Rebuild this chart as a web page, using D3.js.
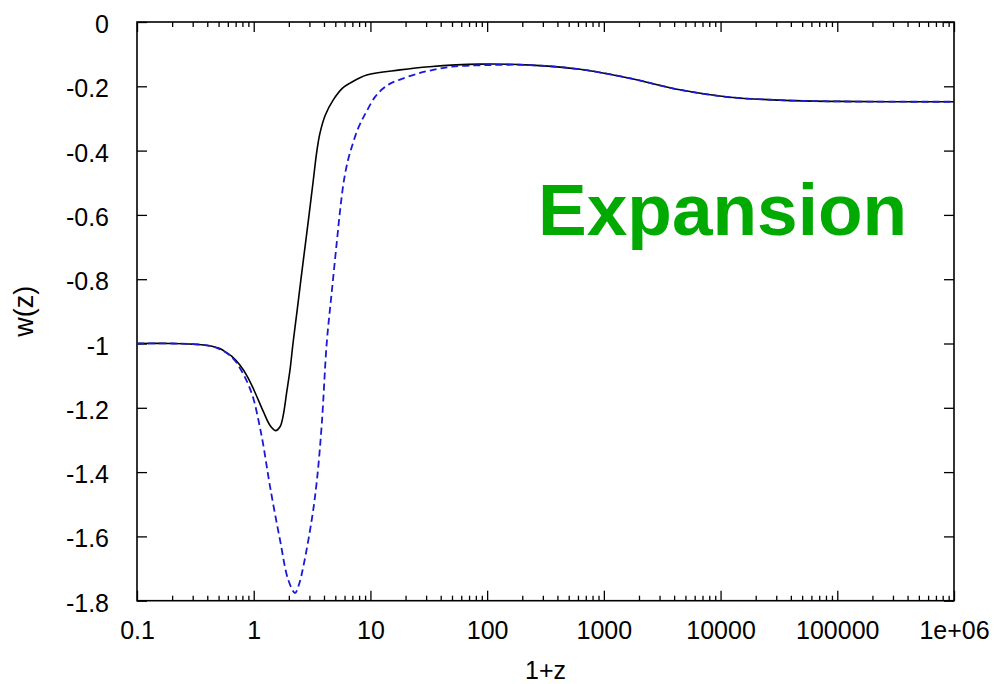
<!DOCTYPE html>
<html>
<head>
<meta charset="utf-8">
<script src="https://cdn.jsdelivr.net/npm/d3@7"></script>
<style>
  html, body { margin: 0; padding: 0; background: #fff; }
  svg { display: block; }
  text { font-family: "Liberation Sans", Arial, Helvetica, sans-serif; fill: #000; }
</style>
</head>
<body>
<svg id="chart" width="998" height="684"></svg>
<script>
// Equation-of-state parameter w(z) versus 1+z, two reconstructions
const solidX = [0.1, 0.2, 0.3, 0.4, 0.5, 0.55, 0.65, 0.764, 0.88, 1.0, 1.21, 1.38, 1.54, 1.68, 1.78, 1.92, 2.05, 2.17, 2.35, 2.54, 2.75, 2.98, 3.22, 3.48, 3.7, 4.1, 4.79, 5.8, 6.69, 9.29, 17.9, 32, 87, 234, 625, 1675, 4500, 12000, 32000, 100000, 1000000];
const solidW = [-1.0, -1.0, -1.002, -1.006, -1.014, -1.022, -1.04, -1.068, -1.102, -1.143, -1.212, -1.255, -1.271, -1.259, -1.228, -1.15, -1.08, -1.0, -0.9, -0.8, -0.7, -0.6, -0.5, -0.4, -0.345, -0.29, -0.243, -0.205, -0.19, -0.165, -0.149, -0.139, -0.131, -0.134, -0.147, -0.175, -0.211, -0.234, -0.243, -0.247, -0.248];

const dashedX = [0.1, 0.2, 0.3, 0.4, 0.5, 0.6, 0.7, 0.8, 0.9, 1.0, 1.1, 1.2, 1.38, 1.68, 1.98, 2.26, 2.45, 2.66, 3.14, 3.48, 3.83, 4.22, 4.65, 5.14, 5.54, 5.94, 6.43, 6.96, 7.68, 8.47, 9.3, 10.95, 12.82, 15.02, 17.93, 24.59, 32.4, 50, 100, 234, 625, 1675, 4500, 12000, 32000, 100000, 1000000];
const dashedW = [-1.0, -1.0, -1.002, -1.006, -1.016, -1.032, -1.056, -1.09, -1.128, -1.175, -1.24, -1.31, -1.445, -1.611, -1.736, -1.776, -1.748, -1.694, -1.549, -1.425, -1.25, -1.0, -0.844, -0.688, -0.575, -0.491, -0.429, -0.386, -0.339, -0.305, -0.277, -0.233, -0.207, -0.19, -0.179, -0.162, -0.151, -0.139, -0.134, -0.134, -0.147, -0.175, -0.211, -0.234, -0.243, -0.247, -0.248];

const xTicks = [0.1, 1, 10, 100, 1000, 10000, 100000, 1000000];
const xTickLabels = ["0.1", "1", "10", "100", "1000", "10000", "100000", "1e+06"];
const yTicks = [0, -0.2, -0.4, -0.6, -0.8, -1, -1.2, -1.4, -1.6, -1.8];
const yTickLabels = ["0", "-0.2", "-0.4", "-0.6", "-0.8", "-1", "-1.2", "-1.4", "-1.6", "-1.8"];

const xTitle = "1+z";
const yTitle = "w(z)";
const annotation = "Expansion";

const svg = d3.select("#chart");
const plotL = 137, plotR = 954, plotT = 22, plotB = 600.7;

const x = d3.scaleLog().domain([0.1, 1e6]).range([plotL, plotR]);
const y = d3.scaleLinear().domain([-1.8, 0]).range([plotB, plotT]);

// minor ticks: 2..9 within every decade
const minorX = [];
for (let e = -1; e < 6; e++) {
  for (let m = 2; m <= 9; m++) minorX.push(m * Math.pow(10, e));
}

const majorLen = 10, minorLen = 5;

// bottom axis: labels + inward ticks
const xAxisB = d3.axisBottom(x).tickValues(xTicks)
  .tickFormat((d, i) => xTickLabels[i]).tickSizeInner(-majorLen).tickSizeOuter(0).tickPadding(21);
const gB = svg.append("g").attr("transform", `translate(0,${plotB})`).call(xAxisB);
gB.select(".domain").remove();
gB.selectAll("text").style("font-size", "25px").attr("fill", "#000");

const xAxisBMinor = d3.axisBottom(x).tickValues(minorX).tickFormat("").tickSizeInner(-minorLen).tickSizeOuter(0);
svg.append("g").attr("transform", `translate(0,${plotB})`).call(xAxisBMinor).select(".domain").remove();

// top axis: mirrored ticks, no labels
const xAxisT = d3.axisTop(x).tickValues(xTicks).tickFormat("").tickSizeInner(-majorLen).tickSizeOuter(0);
svg.append("g").attr("transform", `translate(0,${plotT})`).call(xAxisT).select(".domain").remove();
const xAxisTMinor = d3.axisTop(x).tickValues(minorX).tickFormat("").tickSizeInner(-minorLen).tickSizeOuter(0);
svg.append("g").attr("transform", `translate(0,${plotT})`).call(xAxisTMinor).select(".domain").remove();

// left axis with labels
const yAxisL = d3.axisLeft(y).tickValues(yTicks)
  .tickFormat((d, i) => yTickLabels[i]).tickSizeInner(-majorLen).tickSizeOuter(0).tickPadding(28);
const gL = svg.append("g").attr("transform", `translate(${plotL},0)`).call(yAxisL);
gL.select(".domain").remove();
gL.selectAll("text").style("font-size", "25px").attr("fill", "#000").attr("dy", "0.42em");

// right axis: mirrored ticks
const yAxisR = d3.axisRight(y).tickValues(yTicks).tickFormat("").tickSizeInner(-majorLen).tickSizeOuter(0);
svg.append("g").attr("transform", `translate(${plotR},0)`).call(yAxisR).select(".domain").remove();

svg.selectAll(".tick line").attr("stroke", "#000").attr("stroke-width", 1.3);

// frame
svg.append("rect")
  .attr("x", plotL).attr("y", plotT)
  .attr("width", plotR - plotL).attr("height", plotB - plotT)
  .attr("fill", "none").attr("stroke", "#000").attr("stroke-width", 1.6);

// curves
const line = d3.line()
  .x(d => x(d[0])).y(d => y(d[1]))
  .curve(d3.curveCatmullRom.alpha(0.5));

svg.append("path")
  .datum(solidX.map((v, i) => [v, solidW[i]]))
  .attr("d", line)
  .attr("fill", "none").attr("stroke", "#000").attr("stroke-width", 1.6);

svg.append("path")
  .datum(dashedX.map((v, i) => [v, dashedW[i]]))
  .attr("d", line)
  .attr("fill", "none").attr("stroke", "#1a1ad6").attr("stroke-width", 1.8)
  .attr("stroke-dasharray", "7,4");

// axis titles
svg.append("text")
  .attr("x", (plotL + plotR) / 2).attr("y", 679)
  .attr("text-anchor", "middle").style("font-size", "25px")
  .text(xTitle);

svg.append("text")
  .attr("transform", `translate(33,${(plotT + plotB) / 2}) rotate(-90)`)
  .attr("text-anchor", "middle").style("font-size", "27px")
  .text(yTitle);

// annotation
svg.append("text")
  .attr("x", 538).attr("y", 235)
  .style("font-size", "73px").style("font-weight", "bold")
  .style("fill", "#00aa00")
  .text(annotation);
</script>
</body>
</html>
